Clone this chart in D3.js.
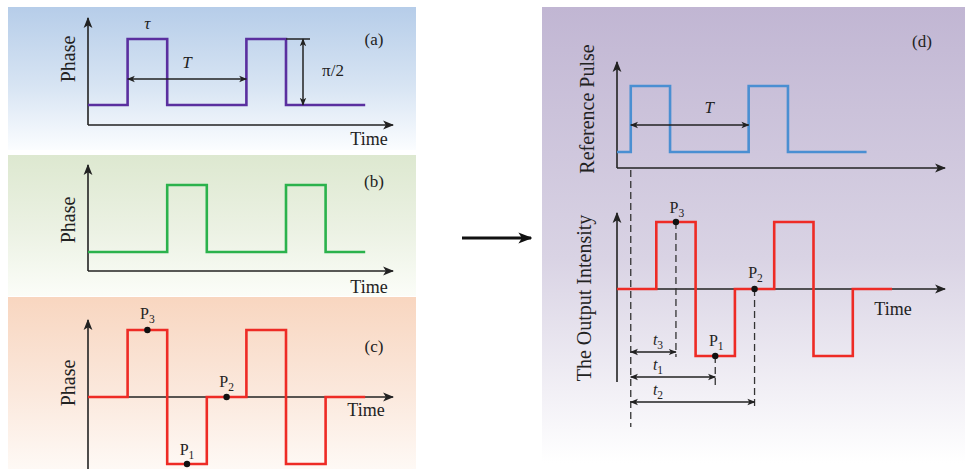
<!DOCTYPE html>
<html>
<head>
<meta charset="utf-8">
<script src="https://cdn.jsdelivr.net/npm/d3@7"></script>
<style>
  body { margin: 0; background: #fff; }
  svg text { font-family: "Liberation Serif", "DejaVu Serif", serif; fill: #222; }
</style>
</head>
<body>
<svg id="chart" width="965" height="469"></svg>
<script>
// step signals: level held on each unit time slot
const timeSlots = [0, 1, 2, 3, 4, 5, 6, 7];
const levelsA = [0, 1, 0, 0, 1, 0, 0];
const levelsB = [0, 0, 1, 0, 0, 1, 0];
const levelsC = [0, 1, -1, 0, 1, -1, 0];
// reference pulse in (d): break times and levels between them
const refTimes = [0, 0.35, 1.35, 3.35, 4.35, 6.35];
const refLevels = [0, 1, 0, 1, 0];
// sample points on the phase signal
const points = [
  {name: "P", sub: "3", t: 1.5, level: 1},
  {name: "P", sub: "1", t: 2.5, level: -1},
  {name: "P", sub: "2", t: 3.5, level: 0}
];

const svg = d3.select("#chart");
const defs = svg.append("defs");

// arrow heads
function marker(id, color, size) {
  defs.append("marker")
    .attr("id", id)
    .attr("viewBox", "0 0 10 10")
    .attr("refX", 9).attr("refY", 5)
    .attr("markerWidth", size).attr("markerHeight", size)
    .attr("markerUnits", "userSpaceOnUse")
    .attr("orient", "auto-start-reverse")
    .append("path")
    .attr("d", "M0,1 L10,5 L0,9 L2.5,5 Z")
    .attr("fill", color);
}
marker("arr", "#222", 11);
marker("dim", "#222", 8);
marker("big", "#111", 14);

// panel backgrounds
function gradient(id, top, mid, bottom) {
  const g = defs.append("linearGradient").attr("id", id)
    .attr("x1", 0).attr("y1", 0).attr("x2", 0).attr("y2", 1);
  g.append("stop").attr("offset", "0%").attr("stop-color", top);
  g.append("stop").attr("offset", "55%").attr("stop-color", mid);
  g.append("stop").attr("offset", "100%").attr("stop-color", bottom);
}
gradient("gA", "#b6cde9", "#d7e4f3", "#fbfdff");
gradient("gB", "#dde8d0", "#ecf2e4", "#fbfdf8");
gradient("gC", "#f8d6c0", "#fbe8dc", "#fef9f5");
gradient("gD", "#c1b6d3", "#d9d3e4", "#ffffff");

const bgs = [
  {x: 8, y: 7, w: 408, h: 143, fill: "url(#gA)"},
  {x: 8, y: 155, w: 408, h: 141, fill: "url(#gB)"},
  {x: 8, y: 297, w: 408, h: 172, fill: "url(#gC)"},
  {x: 542, y: 7, w: 423, h: 456, fill: "url(#gD)"}
];
svg.selectAll("rect.bg").data(bgs).enter().append("rect")
  .attr("class", "bg")
  .attr("x", d => d.x).attr("y", d => d.y)
  .attr("width", d => d.w).attr("height", d => d.h)
  .attr("fill", d => d.fill);

function stepData(times, levels) {
  const pts = levels.map((v, i) => [times[i], v]);
  pts.push([times[times.length - 1], levels[levels.length - 1]]);
  return pts;
}

function drawPanel(cfg) {
  const g = svg.append("g");
  const x = d3.scaleLinear().domain([0, 7]).range([cfg.x0, cfg.x0 + 7 * cfg.unit]);
  const y = d3.scaleLinear().domain([0, 1]).range([cfg.y0, cfg.y1]);

  // axes
  g.append("line")
    .attr("x1", cfg.x0).attr("y1", cfg.axisBottom)
    .attr("x2", cfg.x0).attr("y2", cfg.axisTop)
    .attr("stroke", "#222").attr("stroke-width", 1.6)
    .attr("marker-end", "url(#arr)");
  g.append("line")
    .attr("x1", cfg.x0).attr("y1", cfg.axisY)
    .attr("x2", cfg.axisRight).attr("y2", cfg.axisY)
    .attr("stroke", "#222").attr("stroke-width", 1.6)
    .attr("marker-end", "url(#arr)");

  const line = d3.line()
    .x(d => x(d[0])).y(d => y(d[1]))
    .curve(d3.curveStepAfter);
  g.append("path")
    .datum(stepData(cfg.times, cfg.levels))
    .attr("d", line)
    .attr("fill", "none")
    .attr("stroke", cfg.color)
    .attr("stroke-width", 2.6);

  // axis titles
  if (cfg.ylabel) {
    g.append("text")
      .attr("transform", `translate(${cfg.ylabelX},${cfg.ylabelY}) rotate(-90)`)
      .attr("text-anchor", "middle")
      .attr("font-size", cfg.ylabelSize || 20)
      .text(cfg.ylabel);
  }
  if (cfg.timeX) {
    g.append("text")
      .attr("x", cfg.timeX).attr("y", cfg.timeY)
      .attr("text-anchor", "middle").attr("font-size", 18)
      .text("Time");
  }
  if (cfg.tag) {
    g.append("text")
      .attr("x", cfg.tagX).attr("y", cfg.tagY)
      .attr("text-anchor", "middle").attr("font-size", 17)
      .text(cfg.tag);
  }
  return {g, x, y};
}

function dimArrow(g, x1, y1, x2, y2) {
  g.append("line")
    .attr("x1", x1).attr("y1", y1).attr("x2", x2).attr("y2", y2)
    .attr("stroke", "#222").attr("stroke-width", 1.5)
    .attr("marker-start", "url(#dim)")
    .attr("marker-end", "url(#dim)");
}

function subLabel(g, px, py, name, sub, size) {
  const t = g.append("text")
    .attr("x", px).attr("y", py)
    .attr("text-anchor", "middle")
    .attr("font-size", size || 16);
  t.append("tspan").text(name);
  t.append("tspan").attr("dy", 4).attr("font-size", (size || 16) * 0.72).text(sub);
  return t;
}

// (a)
const pa = drawPanel({
  x0: 88, unit: 39.6, y0: 105, y1: 39, axisY: 125, axisTop: 18, axisBottom: 125, axisRight: 393,
  times: timeSlots, levels: levelsA, color: "#5a2f9f",
  ylabel: "Phase", ylabelX: 75, ylabelY: 59,
  timeX: 369, timeY: 145, tag: "(a)", tagX: 374, tagY: 45
});
dimArrow(pa.g, pa.x(1), 79, pa.x(4), 79);
pa.g.append("line")
  .attr("x1", pa.x(5)).attr("y1", pa.y(1)).attr("x2", 310).attr("y2", pa.y(1))
  .attr("stroke", "#222").attr("stroke-width", 1.5);
dimArrow(pa.g, 303, pa.y(1), 303, pa.y(0));
pa.g.append("text").attr("x", pa.x(2.5)).attr("y", 68)
  .attr("text-anchor", "middle").attr("font-size", 17).attr("font-style", "italic").text("T");
pa.g.append("text").attr("x", pa.x(1.5)).attr("y", 29)
  .attr("text-anchor", "middle").attr("font-size", 17).attr("font-style", "italic").text("τ");
pa.g.append("text").attr("x", 333).attr("y", 76)
  .attr("text-anchor", "middle").attr("font-size", 17).text("π/2");

// (b)
drawPanel({
  x0: 88, unit: 39.6, y0: 252, y1: 185, axisY: 271, axisTop: 165, axisBottom: 271, axisRight: 393,
  times: timeSlots, levels: levelsB, color: "#2bb24c",
  ylabel: "Phase", ylabelX: 75, ylabelY: 220,
  timeX: 369, timeY: 293, tag: "(b)", tagX: 374, tagY: 187
});

// (c)
const pc = drawPanel({
  x0: 88, unit: 39.6, y0: 397, y1: 330, axisY: 397, axisTop: 320, axisBottom: 469, axisRight: 393,
  times: timeSlots, levels: levelsC, color: "#ee2b25",
  ylabel: "Phase", ylabelX: 75, ylabelY: 383,
  timeX: 366, timeY: 416, tag: "(c)", tagX: 374, tagY: 352
});
const labelOffC = {"3": -11, "1": -9, "2": -10};
points.forEach(p => {
  pc.g.append("circle").attr("cx", pc.x(p.t)).attr("cy", pc.y(p.level)).attr("r", 3.2).attr("fill", "#111");
  subLabel(pc.g, pc.x(p.t), pc.y(p.level) + labelOffC[p.sub], p.name, p.sub);
});

// (d) reference pulse
const pr = drawPanel({
  x0: 617, unit: 39.3, y0: 152, y1: 86, axisY: 168, axisTop: 62, axisBottom: 168, axisRight: 945,
  times: refTimes, levels: refLevels, color: "#4a8fd2",
  ylabel: "Reference Pulse", ylabelX: 594, ylabelY: 109,
  tag: "(d)", tagX: 922, tagY: 47
});
dimArrow(pr.g, pr.x(refTimes[1]), 125, pr.x(refTimes[3]), 125);
pr.g.append("text").attr("x", pr.x(2.35)).attr("y", 113)
  .attr("text-anchor", "middle").attr("font-size", 17).attr("font-style", "italic").text("T");

// (d) output intensity
const po = drawPanel({
  x0: 617, unit: 39.3, y0: 289, y1: 222, axisY: 289, axisTop: 213, axisBottom: 382, axisRight: 945,
  times: timeSlots, levels: levelsC, color: "#ee2b25",
  ylabel: "The Output Intensity", ylabelX: 591, ylabelY: 298,
  timeX: 893, timeY: 315
});

const dashStart = pr.x(refTimes[1]);
const dash = (x1, y1, x2, y2) => po.g.append("line")
  .attr("x1", x1).attr("y1", y1).attr("x2", x2).attr("y2", y2)
  .attr("stroke", "#333").attr("stroke-width", 1.3).attr("stroke-dasharray", "7,4");
dash(dashStart, 170, dashStart, 427);

const dropEnd = {"3": 357, "1": 387, "2": 407};
const arrowY = {"3": 352, "1": 377, "2": 402};
const labelOffD = {"3": -9, "1": -10, "2": -11};
points.forEach(p => {
  const px = po.x(p.t), py = po.y(p.level);
  dash(px, py, px, dropEnd[p.sub]);
  dimArrow(po.g, dashStart, arrowY[p.sub], px, arrowY[p.sub]);
  po.g.append("circle").attr("cx", px).attr("cy", py).attr("r", 3.2).attr("fill", "#111");
  subLabel(po.g, px + 1, py + labelOffD[p.sub], p.name, p.sub);
  const t = po.g.append("text").attr("x", 658).attr("y", arrowY[p.sub] - 7)
    .attr("text-anchor", "middle").attr("font-size", 16);
  t.append("tspan").attr("font-style", "italic").text("t");
  t.append("tspan").attr("dy", 4).attr("font-size", 11.5).text(p.sub);
});

// arrow between the panels
svg.append("line")
  .attr("x1", 462).attr("y1", 238).attr("x2", 531).attr("y2", 238)
  .attr("stroke", "#111").attr("stroke-width", 3)
  .attr("marker-end", "url(#big)");
</script>
</body>
</html>
